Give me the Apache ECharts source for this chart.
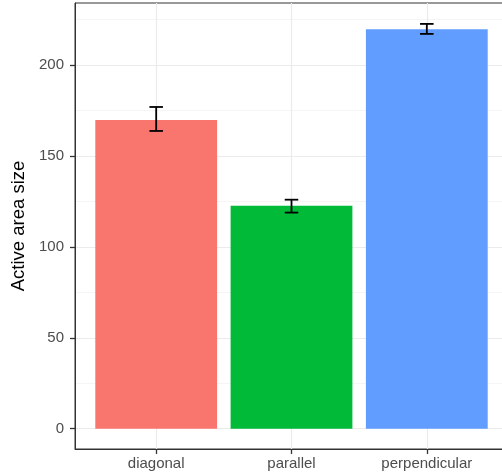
<!DOCTYPE html>
<html>
<head>
<meta charset="utf-8">
<script src="https://cdn.jsdelivr.net/npm/echarts@6/dist/echarts.min.js"></script>
<style>
  html, body { margin: 0; padding: 0; background: #fff; }
  #chart { width: 502px; height: 473px; }
</style>
</head>
<body>
<div id="chart"></div>
<script>
// bar means + standard error bounds
const categories = ['diagonal', 'parallel', 'perpendicular']
const meanSize = [169.8, 122.6, 219.8]
const errLow = [163.8, 118.9, 217.2]
const errHigh = [177.0, 126.0, 222.7]
const barColors = ['#F8766D', '#00BA38', '#619CFF']
const yTicks = [0, 50, 100, 150, 200]
const yMinor = [25, 75, 125, 175, 225]
const xTicks = [0, 1, 2]

const barData = categories.map((c, i) => [i, meanSize[i]])
const errData = categories.map((c, i) => [i, errLow[i], errHigh[i]])

const labelStyle = { color: '#4D4D4D', fontSize: 15, fontFamily: 'Liberation Sans' }

const chart = echarts.init(document.getElementById('chart'))
chart.setOption({
  animation: false,
  grid: {
    left: 75, top: 3, right: -6, bottom: 24,
    show: true, borderColor: '#333333',
    outerBoundsMode: 'none'
  },
  xAxis: {
    type: 'value', min: -0.6, max: 2.6,
    axisLine: { show: true, onZero: false, lineStyle: { color: '#333333' } },
    axisTick: { show: true, length: 5, customValues: xTicks, lineStyle: { color: '#333333', width: 1.3 } },
    axisLabel: {
      ...labelStyle, margin: 7, customValues: xTicks,
      formatter: v => categories[Math.round(v)]
    },
    splitLine: { show: true, lineStyle: { color: '#EBEBEB', width: 1.2 } }
  },
  yAxis: [
    {
      type: 'value', min: -11.15, max: 234.2, position: 'left',
      name: 'Active area size', nameLocation: 'middle', nameGap: 42,
      nameTextStyle: { color: '#000', fontSize: 18.5, fontFamily: 'Liberation Sans' },
      axisLine: { show: true, onZero: false, lineStyle: { color: '#333333' } },
      axisTick: { show: true, length: 5, customValues: yTicks, lineStyle: { color: '#333333', width: 1.3 } },
      axisLabel: { ...labelStyle, margin: 11, customValues: yTicks },
      splitLine: { show: true, lineStyle: { color: '#EBEBEB', width: 1.2 } }
    },
    {
      type: 'value', min: -11.15, max: 234.2, position: 'right',
      axisLine: { show: false, onZero: false },
      axisTick: { show: false, customValues: yMinor },
      axisLabel: { show: false, customValues: yMinor },
      splitLine: { show: true, lineStyle: { color: '#F0F0F0', width: 0.7 } }
    }
  ],
  series: [
    {
      type: 'custom', name: 'mean',
      data: barData,
      encode: { x: 0, y: 1 },
      renderItem: (params, api) => {
        const x = api.value(0)
        const p0 = api.coord([x - 0.45, api.value(1)])
        const p1 = api.coord([x + 0.45, 0])
        return {
          type: 'rect',
          shape: { x: p0[0], y: p0[1], width: p1[0] - p0[0], height: p1[1] - p0[1] },
          style: { fill: barColors[params.dataIndex] }
        }
      }
    },
    {
      type: 'custom', name: 'se',
      data: errData,
      encode: { x: 0, y: [1, 2] },
      z: 3,
      renderItem: (params, api) => {
        const x = api.value(0)
        const lo = api.coord([x, api.value(1)])
        const hi = api.coord([x, api.value(2)])
        const half = api.size([0.05, 0])[0]
        const st = { stroke: '#000', lineWidth: 1.8 }
        return {
          type: 'group',
          children: [
            { type: 'line', shape: { x1: lo[0], y1: lo[1], x2: hi[0], y2: hi[1] }, style: st },
            { type: 'line', shape: { x1: lo[0] - half, y1: lo[1], x2: lo[0] + half, y2: lo[1] }, style: st },
            { type: 'line', shape: { x1: hi[0] - half, y1: hi[1], x2: hi[0] + half, y2: hi[1] }, style: st }
          ]
        }
      }
    }
  ]
})
</script>
</body>
</html>
